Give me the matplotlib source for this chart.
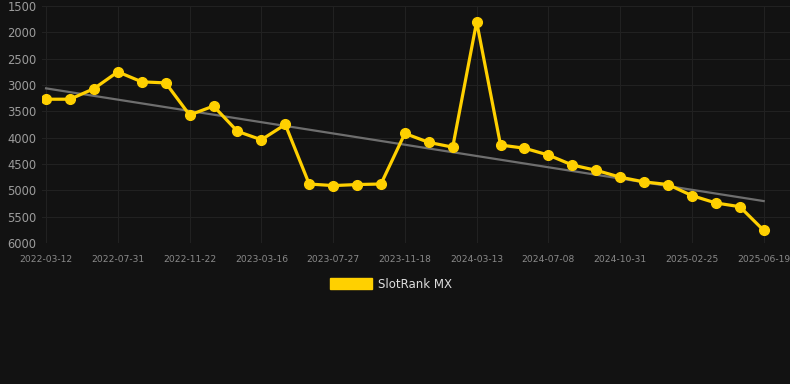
import matplotlib
matplotlib.use("Agg")
import matplotlib.pyplot as plt
import numpy as np
from matplotlib.patches import Patch

# rank per observation (lower is better, axis inverted)
ranks = [3270, 3270, 3070, 2750, 2940, 2960, 3570, 3400, 3880, 4040, 3750,
         4880, 4910, 4890, 4880, 3920, 4090, 4180, 1800, 4140, 4200, 4330,
         4520, 4620, 4750, 4840, 4890, 5100, 5240, 5310, 5760]
tick_labels = ["2022-03-12", "2022-07-31", "2022-11-22", "2023-03-16",
               "2023-07-27", "2023-11-18", "2024-03-13", "2024-07-08",
               "2024-10-31", "2025-02-25", "2025-06-19"]
y_ticks = [1500, 2000, 2500, 3000, 3500, 4000, 4500, 5000, 5500, 6000]
series_name = "SlotRank MX"

BG = "#121212"
GOLD = "#FFD000"

x = np.arange(len(ranks))
slope, icpt = np.polyfit(x, ranks, 1)

fig = plt.figure(figsize=(7.9, 3.84), dpi=100, facecolor=BG)
ax = fig.add_axes([42 / 790, 1 - 243 / 384, 1 - 42 / 790, 237 / 384])
ax.set_facecolor(BG)

ax.plot(x, slope * x + icpt, color="#6e6e6e", linewidth=1.6, zorder=2)
ax.plot(x, ranks, color=GOLD, linewidth=2.3, marker="o", markersize=7,
        zorder=3, solid_joinstyle="miter")

ax.set_ylim(6000, 1500)
ax.set_yticks(y_ticks)
ax.set_xlim(-0.17, len(ranks) - 1 + 1.1)
ax.set_xticks(x[::3])
ax.set_xticklabels(tick_labels)

ax.grid(True, color="#212121", linewidth=0.8)
for s in ax.spines.values():
    s.set_visible(False)
ax.tick_params(axis="y", length=0, pad=4, labelsize=8.3, labelcolor="#9c9c9c")
ax.tick_params(axis="x", length=0, pad=9, labelsize=6.6, labelcolor="#8a8a8a")

handle = Patch(facecolor=GOLD, edgecolor=GOLD)
fig.legend([handle], [series_name], loc="center", bbox_to_anchor=(0.495, 1 - 284 / 384),
           frameon=False, handlelength=3.6, handleheight=1.0, handletextpad=0.5,
           fontsize=8.5, labelcolor="#dddddd")

fig.savefig("out.png", dpi=100, facecolor=BG)
